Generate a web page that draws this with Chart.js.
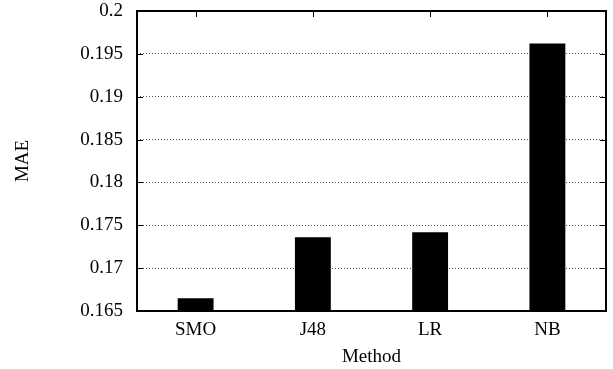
<!DOCTYPE html>
<html>
<head>
<meta charset="utf-8">
<script src="https://cdn.jsdelivr.net/npm/chart.js@4.4.1/dist/chart.umd.min.js"></script>
<style>
  html, body { margin: 0; padding: 0; background: #fff; }
  #wrap { width: 613px; height: 369px; }
</style>
</head>
<body>
<div id="wrap"><canvas id="c" width="613" height="369"></canvas></div>
<script>
const categories = ['SMO', 'J48', 'LR', 'NB'];
const maeValues = [0.1665, 0.1736, 0.1742, 0.1962];
const yTickValues = [0.165, 0.17, 0.175, 0.18, 0.185, 0.19, 0.195, 0.2];
const xAxisTitle = 'Method';
const yAxisTitle = 'MAE';

const FONT = "'Liberation Serif', 'Times New Roman', serif";

const framePlugin = {
  id: 'frame',
  afterDatasetsDraw(chart) {
    const { ctx, chartArea: a, scales } = chart;
    ctx.save();
    ctx.strokeStyle = '#000';
    ctx.lineWidth = 1;
    const tl = 6;
    ctx.beginPath();
    scales.y.ticks.forEach(t => {
      const y = Math.round(scales.y.getPixelForValue(t.value)) + 0.5;
      ctx.moveTo(a.left, y); ctx.lineTo(a.left + tl, y);
      ctx.moveTo(a.right, y); ctx.lineTo(a.right - tl, y);
    });
    categories.forEach((c, i) => {
      const x = Math.round(scales.x.getPixelForValue(i)) + 0.5;
      ctx.moveTo(x, a.top); ctx.lineTo(x, a.top + tl);
      ctx.moveTo(x, a.bottom); ctx.lineTo(x, a.bottom - tl);
    });
    ctx.stroke();
    ctx.lineWidth = 2;
    ctx.strokeRect(a.left, a.top, a.right - a.left, a.bottom - a.top);
    ctx.restore();
  }
};

new Chart(document.getElementById('c'), {
  type: 'bar',
  data: {
    labels: categories,
    datasets: [{
      data: maeValues,
      backgroundColor: '#000',
      borderWidth: 0,
      barPercentage: 0.306,
      categoryPercentage: 1.0
    }]
  },
  options: {
    responsive: false,
    animation: false,
    devicePixelRatio: 1,
    layout: { padding: { top: 0, right: 7, left: 0, bottom: 0 } },
    plugins: {
      legend: { display: false },
      tooltip: { enabled: false }
    },
    scales: {
      x: {
        grid: { display: false, drawTicks: false },
        border: { display: false },
        ticks: { color: '#000', font: { family: FONT, size: 19 }, padding: 8, maxRotation: 0 },
        title: { display: true, text: xAxisTitle, color: '#000', font: { family: FONT, size: 19 }, padding: { top: 0, bottom: 1 } },
        afterFit(s) { s.height = 58; }
      },
      y: {
        min: 0.165,
        max: 0.2,
        afterBuildTicks(s) { s.ticks = yTickValues.map(v => ({ value: v })); },
        grid: { color: '#555', lineWidth: 1, drawTicks: false },
        border: { display: false, dash: [1, 2] },
        ticks: {
          color: '#000',
          font: { family: FONT, size: 19 },
          padding: 14,
          callback: v => String(Number(v.toFixed(3)))
        },
        title: { display: true, text: yAxisTitle, color: '#000', font: { family: FONT, size: 19 }, padding: { top: 12, bottom: 0 } },
        afterFit(s) { s.width = 137; s.paddingTop = 11; }
      }
    }
  },
  plugins: [framePlugin]
});
</script>
</body>
</html>
